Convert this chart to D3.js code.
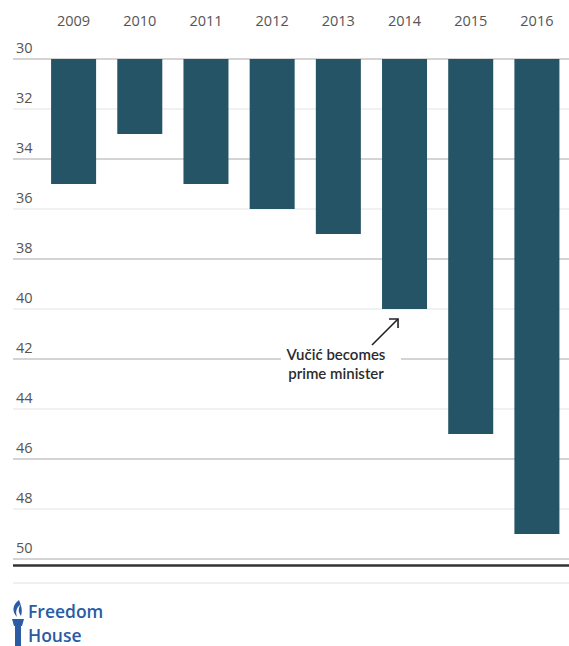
<!DOCTYPE html>
<html><head><meta charset="utf-8">
<script src="https://cdn.jsdelivr.net/npm/d3@7"></script>
<style>body{margin:0;background:#fff;}svg{display:block;}</style>
</head><body>
<script>
const years = ["2009","2010","2011","2012","2013","2014","2015","2016"];
const scores = [35, 33, 35, 36, 37, 40, 45, 49];
const yTicks = [30,32,34,36,38,40,42,44,46,48,50];
const annotationLines = ["Vučić becomes", "prime minister"];

const W = 569, H = 646;
const svg = d3.select("body").append("svg").attr("width", W).attr("height", H);

const y = d3.scaleLinear().domain([30, 50]).range([59, 559]);
const x = d3.scaleBand().domain(years).range([40.5, 570]).paddingInner(0.32).paddingOuter(0.16);

// gridlines
svg.append("g").selectAll("line").data(yTicks).join("line")
  .attr("x1", 13).attr("x2", W)
  .attr("y1", d => y(d)).attr("y2", d => y(d))
  .attr("stroke", (d,i) => i % 2 === 0 ? "#a9a9a9" : "#e4e4e4")
  .attr("stroke-width", 1.2);

// tick labels
svg.append("g").selectAll("text").data(yTicks).join("text")
  .attr("x", 16).attr("y", d => y(d) - 6)
  .attr("font-family", "Open Sans, sans-serif").attr("font-size", 14.5)
  .attr("fill", "#555").text(d => d);

// bars
svg.append("g").selectAll("rect").data(years).join("rect")
  .attr("x", d => x(d)).attr("width", x.bandwidth())
  .attr("y", y(30)).attr("height", (d,i) => y(scores[i]) - y(30))
  .attr("fill", "#265467");

// year labels
svg.append("g").selectAll("text").data(years).join("text")
  .attr("x", d => x(d) + x.bandwidth()/2).attr("y", 26)
  .attr("text-anchor", "middle")
  .attr("font-family", "Open Sans, sans-serif").attr("font-size", 14.5)
  .attr("fill", "#555").text(d => d);

// annotation: white gap on gridline
const ax = 336;
svg.append("rect").attr("x", 281).attr("y", y(42) - 3).attr("width", 120).attr("height", 6).attr("fill", "#fff");
svg.append("g").selectAll("text").data(annotationLines).join("text")
  .attr("x", ax).attr("y", (d,i) => 360 + i*19)
  .attr("text-anchor", "middle")
  .attr("font-family", "Lato, sans-serif").attr("font-weight", 600).attr("font-size", 15)
  .attr("fill", "#2b2b2b").text(d => d);

// arrow
const i2014 = years.indexOf("2014");
const tipX = x("2014") + 16, tipY = y(scores[i2014]) + 10;
svg.append("line").attr("x1", 372).attr("y1", 345).attr("x2", tipX).attr("y2", tipY)
  .attr("stroke", "#222").attr("stroke-width", 1.6);
svg.append("path").attr("d", `M${tipX-9},${tipY} L${tipX},${tipY} L${tipX},${tipY+9}`)
  .attr("fill", "none").attr("stroke", "#222").attr("stroke-width", 1.6);

// bottom rules
svg.append("line").attr("x1", 13).attr("x2", W).attr("y1", 565.5).attr("y2", 565.5)
  .attr("stroke", "#333").attr("stroke-width", 2.5);
svg.append("line").attr("x1", 13).attr("x2", W).attr("y1", 583).attr("y2", 583)
  .attr("stroke", "#e2e2e2").attr("stroke-width", 1.2);

// logo
const logo = svg.append("g").attr("fill", "#2a5ba3");
logo.append("path").attr("d", "M19,600 C12,605 12,612 17,617 C15,611 17,607 21,604 C18,608 18,612 21,616 C23,610 21,605 19,600 Z");
logo.append("path").attr("d", "M12,619 L24,619 L22,626 L14,626 Z");
logo.append("rect").attr("x", 15).attr("y", 626).attr("width", 6).attr("height", 20);
logo.append("text").attr("x", 28).attr("y", 618)
  .attr("font-family", "Open Sans, sans-serif").attr("font-weight", 600).attr("font-size", 17.5)
  .attr("letter-spacing", 0).text("Freedom");
logo.append("text").attr("x", 28).attr("y", 641.5)
  .attr("font-family", "Open Sans, sans-serif").attr("font-weight", 600).attr("font-size", 17.5)
  .attr("letter-spacing", 0).text("House");
</script>
</body></html>
